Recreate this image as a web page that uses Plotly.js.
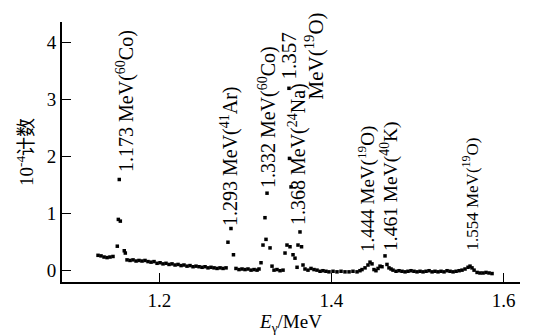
<!DOCTYPE html>
<html>
<head>
<meta charset="utf-8">
<script src="https://cdn.plot.ly/plotly-3.0.1.min.js"></script>
<style>html,body{margin:0;padding:0;background:#fff;}#chart{width:536px;height:335px;}</style>
</head>
<body>
<div id="chart"></div>
<script>
// Gamma energy (MeV) of each spectrum point
const energy = [
  1.1288, 1.1323, 1.1358, 1.1393, 1.1427, 1.1462,
  1.1512, 1.1524, 1.1535, 1.1547, 1.1593, 1.1605,
  1.1625, 1.1660, 1.1695, 1.1730, 1.1764, 1.1799, 1.1834, 1.1869, 1.1904, 1.1939,
  1.1974, 1.2009, 1.2043, 1.2078, 1.2113, 1.2148, 1.2183, 1.2218, 1.2253, 1.2287,
  1.2322, 1.2357, 1.2392, 1.2427, 1.2462, 1.2497, 1.2532, 1.2566, 1.2601, 1.2636,
  1.2671, 1.2706, 1.2741, 1.2776,
  1.2798, 1.2833, 1.2862,
  1.2891, 1.2926, 1.2961, 1.2996, 1.3031, 1.3066, 1.3101, 1.3136, 1.3159,
  1.3182, 1.3205, 1.3228, 1.3240, 1.3252, 1.3287, 1.3310,
  1.3333, 1.3368, 1.3403, 1.3438,
  1.3461, 1.3484, 1.3507, 1.3513, 1.3519, 1.3531, 1.3554, 1.3577, 1.3601, 1.3612, 1.3635, 1.3653, 1.3670,
  1.3693, 1.3728, 1.3763, 1.3798, 1.3833, 1.3868, 1.3902, 1.3937, 1.3972, 1.4019,
  1.4065, 1.4112, 1.4158, 1.4205, 1.4251, 1.4298, 1.4332,
  1.4356, 1.4391, 1.4425, 1.4449, 1.4472, 1.4495, 1.4518, 1.4542, 1.4565, 1.4588, 1.4623, 1.4646, 1.4669, 1.4693,
  1.4716, 1.4751, 1.4786, 1.4821, 1.4856, 1.4890, 1.4925, 1.4960, 1.4995, 1.5030,
  1.5065, 1.5100, 1.5135, 1.5170, 1.5204, 1.5239, 1.5274, 1.5309, 1.5344, 1.5379,
  1.5414, 1.5449, 1.5484, 1.5518,
  1.5553, 1.5588, 1.5611, 1.5634, 1.5658,
  1.5693, 1.5727, 1.5762, 1.5797, 1.5832, 1.5867
];
// Counts (units of 10^4) of each point
const counts = [
  0.27, 0.26, 0.24, 0.23, 0.24, 0.25,
  0.43, 0.90, 1.60, 0.87, 0.35, 0.31,
  0.19, 0.18, 0.19, 0.17, 0.18, 0.17, 0.18, 0.16, 0.15, 0.16,
  0.13, 0.14, 0.12, 0.13, 0.11, 0.12, 0.10, 0.11, 0.09, 0.10,
  0.08, 0.09, 0.07, 0.08, 0.07, 0.06, 0.07, 0.05, 0.06, 0.05,
  0.04, 0.05, 0.04, 0.05,
  0.50, 0.74, 0.28,
  0.04, 0.02, 0.03, 0.02, 0.03, 0.01, 0.02, 0.01, 0.03,
  0.14, 0.45, 0.93, 0.55, 1.36, 0.40, 0.08,
  0.01, 0.02, 0.00, 0.01,
  0.31, 0.45, 3.20, 1.97, 0.42, 1.47, 0.28, 0.22, 0.06, 0.45, 0.68, 0.42, 0.10,
  0.03, 0.01, 0.04, 0.02, 0.01, -0.01, 0.00, -0.01, -0.02, -0.01,
  -0.02, -0.01, -0.02, -0.02, -0.01, -0.02, 0.00,
  0.02, 0.05, 0.10, 0.15, 0.12, 0.02, 0.00, 0.04, 0.08, 0.07, 0.26, 0.11, 0.05, 0.03,
  0.01, -0.01, 0.00, -0.01, -0.02, -0.01, 0.00, -0.01, -0.02, -0.01,
  -0.02, -0.01, 0.00, -0.02, -0.01, -0.02, -0.01, -0.02, 0.00, -0.01,
  -0.02, -0.01, 0.00, 0.01,
  0.03, 0.06, 0.08, 0.05, 0.01,
  -0.03, -0.04, -0.04, -0.03, -0.04, -0.05
];
// Axis ticks
const xTicks = [1.2, 1.4, 1.6];
const xTickText = ['1.2', '1.4', '1.6'];
const yTicks = [0, 1, 2, 3, 4];
const yTickText = ['0', '1', '2', '3', '4'];
// Peak labels
const peakLabels = [
  '1.173 MeV(<sup>60</sup>Co)',
  '1.293 MeV(<sup>41</sup>Ar)',
  '1.332 MeV(<sup>60</sup>Co)',
  '1.357<br>MeV(<sup>19</sup>O)',
  '1.368 MeV(<sup>24</sup>Na)',
  '1.444 MeV(<sup>19</sup>O)',
  '1.461 MeV(<sup>40</sup>K)',
  '1.554 MeV(<sup>19</sup>O)'
];

const serif = 'Liberation Serif, Times New Roman, serif';
const labelPos = [
  {x: 1.1601, y: 1.714, ya: 'bottom', s: 20},
  {x: 1.2822, y: 0.767, ya: 'bottom', s: 20},
  {x: 1.3252, y: 1.433, ya: 'bottom', s: 20},
  {x: 1.3664, y: 3.767, ya: 'middle', s: 21},
  {x: 1.3600, y: 0.784, ya: 'bottom', s: 20},
  {x: 1.4414, y: 0.311, ya: 'bottom', s: 19},
  {x: 1.4669, y: 0.328, ya: 'bottom', s: 19.5},
  {x: 1.5611, y: 0.328, ya: 'bottom', s: 17}
];
const annotations = peakLabels.map((t, i) => ({
  text: t, x: labelPos[i].x, y: labelPos[i].y, xref: 'x', yref: 'y',
  xanchor: 'center', yanchor: labelPos[i].ya, showarrow: false, textangle: -90,
  borderpad: 0, font: {family: serif, size: labelPos[i].s, color: '#000'}
}));

const trace = {
  x: energy, y: counts, type: 'scatter', mode: 'markers',
  marker: {symbol: 'square', size: 3.5, color: '#000', line: {width: 0}},
  hoverinfo: 'skip'
};

const axisCommon = {
  showline: true, linecolor: '#000', linewidth: 2,
  ticks: 'inside', ticklen: 9, tickwidth: 1.5, tickcolor: '#000',
  showgrid: false, zeroline: false, mirror: false,
  tickfont: {family: serif, size: 19, color: '#000'}
};

const layout = {
  width: 536, height: 335,
  margin: {l: 62, r: 16, t: 22, b: 53},
  paper_bgcolor: '#fff', plot_bgcolor: '#fff',
  showlegend: false,
  xaxis: Object.assign({}, axisCommon, {
    range: [1.08693, 1.61918], tickmode: 'array', tickvals: xTicks, ticktext: xTickText,
    title: {text: '<i>E</i><sub>γ</sub>/MeV', font: {family: serif, size: 19, color: '#000'}, standoff: 8}
  }),
  yaxis: Object.assign({}, axisCommon, {
    range: [-0.198, 4.363], tickmode: 'array', tickvals: yTicks, ticktext: yTickText,
    title: {text: '10<sup>-4</sup>计数', font: {family: 'Liberation Serif, Noto Sans CJK SC, serif', size: 19, color: '#000'}, standoff: 8}
  }),
  annotations: annotations
};

Plotly.newPlot('chart', [trace], layout, {displayModeBar: false, staticPlot: true});
</script>
</body>
</html>
